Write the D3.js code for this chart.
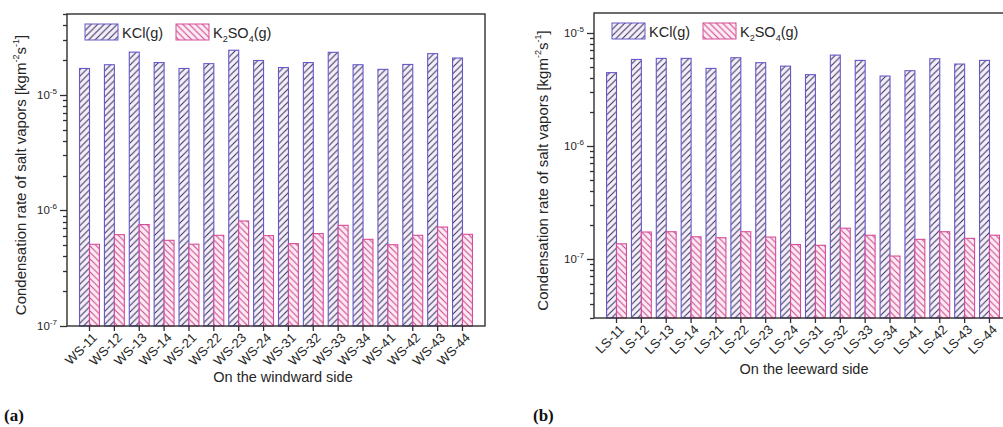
<!DOCTYPE html>
<html>
<head>
<meta charset="utf-8">
<script src="https://cdn.jsdelivr.net/npm/d3@7"></script>
<style>
  html, body { margin: 0; padding: 0; background: #fff; }
  svg { display: block; font-family: "Liberation Sans", Arial, sans-serif; }
</style>
</head>
<body>
<script>
// Sampling points on the windward side and their condensation rates (kg m^-2 s^-1)
const wsCategories = ["WS-11","WS-12","WS-13","WS-14","WS-21","WS-22","WS-23","WS-24",
                      "WS-31","WS-32","WS-33","WS-34","WS-41","WS-42","WS-43","WS-44"];
const wsKCl   = [1.69e-5,1.82e-5,2.34e-5,1.90e-5,1.69e-5,1.86e-5,2.43e-5,1.98e-5,
                 1.72e-5,1.90e-5,2.33e-5,1.82e-5,1.66e-5,1.83e-5,2.27e-5,2.08e-5];
const wsK2SO4 = [5.09e-7,6.17e-7,7.54e-7,5.51e-7,5.10e-7,6.09e-7,8.10e-7,6.05e-7,
                 5.16e-7,6.30e-7,7.43e-7,5.62e-7,5.05e-7,6.09e-7,7.18e-7,6.21e-7];

// Sampling points on the leeward side
const lsCategories = ["LS-11","LS-12","LS-13","LS-14","LS-21","LS-22","LS-23","LS-24",
                      "LS-31","LS-32","LS-33","LS-34","LS-41","LS-42","LS-43","LS-44"];
const lsKCl   = [4.45e-6,5.82e-6,5.95e-6,5.95e-6,4.85e-6,6.03e-6,5.45e-6,5.08e-6,
                 4.27e-6,6.36e-6,5.71e-6,4.15e-6,4.63e-6,5.91e-6,5.30e-6,5.71e-6];
const lsK2SO4 = [1.36e-7,1.73e-7,1.74e-7,1.57e-7,1.54e-7,1.74e-7,1.56e-7,1.34e-7,
                 1.32e-7,1.87e-7,1.62e-7,1.06e-7,1.49e-7,1.74e-7,1.52e-7,1.62e-7];

// Axis extents and labelled decades
const wsDomain = [1e-7, 5e-5];
const lsDomain = [3e-8, 1.5e-5];
const wsMajorTicks = [1e-7, 1e-6, 1e-5];
const lsMajorTicks = [1e-7, 1e-6, 1e-5];

const colors = {
  axis: "#303030",
  text: "#262626",
  kclStroke: "#6459c8",
  kclHatch: "#34325e",
  kclFill: "#f6eef8",
  k2Stroke: "#d64c98",
  k2Hatch: "#cf4490",
  k2Fill: "#fcebf3"
};

const W = 1003, H = 427;
const svg = d3.select("body").append("svg").attr("width", W).attr("height", H);
svg.append("rect").attr("width", W).attr("height", H).attr("fill", "#fff");

// Hatch patterns: forward slashes for KCl, back slashes for K2SO4
const defs = svg.append("defs");
function hatch(id, fill, stroke, forward) {
  const s = 6.5;
  const p = defs.append("pattern").attr("id", id)
    .attr("patternUnits", "userSpaceOnUse").attr("width", s).attr("height", s);
  p.append("rect").attr("width", s).attr("height", s).attr("fill", fill);
  p.append("path")
    .attr("d", forward
      ? `M0,${s} L${s},0 M${-s/4},${s/4} L${s/4},${-s/4} M${s*3/4},${s*5/4} L${s*5/4},${s*3/4}`
      : `M0,0 L${s},${s} M${-s/4},${s*3/4} L${s/4},${s*5/4} M${s*3/4},${-s/4} L${s*5/4},${s/4}`)
    .attr("stroke", stroke).attr("stroke-width", 1.05);
}
hatch("hatch-kcl", colors.kclFill, colors.kclHatch, true);
hatch("hatch-k2so4", colors.k2Fill, colors.k2Hatch, false);

function tenPower(sel, v, size) {
  const e = Math.round(Math.log10(v));
  sel.text(null);
  sel.append("tspan").text("10");
  sel.append("tspan").attr("dy", -5).attr("font-size", size * 0.7).text(String(e));
}

function panel(o) {
  const g = svg.append("g");
  const x = d3.scaleBand().domain(o.categories)
    .range([o.left, o.right]).paddingInner(0).paddingOuter(0.405);
  const y = d3.scaleLog().domain(o.domain).range([o.bottom, o.top]);
  const bw = x.bandwidth() * 0.4;

  // Bars
  const groups = g.selectAll("g.cat").data(o.categories).join("g").attr("class", "cat");
  groups.append("rect")
    .attr("x", d => x(d) + x.bandwidth() / 2 - bw)
    .attr("width", bw)
    .attr("y", (d, i) => y(o.kcl[i]))
    .attr("height", (d, i) => o.bottom - y(o.kcl[i]))
    .attr("fill", "url(#hatch-kcl)")
    .attr("stroke", colors.kclStroke).attr("stroke-width", 1.1);
  groups.append("rect")
    .attr("x", d => x(d) + x.bandwidth() / 2)
    .attr("width", bw)
    .attr("y", (d, i) => y(o.k2so4[i]))
    .attr("height", (d, i) => o.bottom - y(o.k2so4[i]))
    .attr("fill", "url(#hatch-k2so4)")
    .attr("stroke", colors.k2Stroke).attr("stroke-width", 1.1);

  // Frame
  g.append("rect").attr("x", o.left).attr("y", o.top)
    .attr("width", o.right - o.left).attr("height", o.bottom - o.top)
    .attr("fill", "none").attr("stroke", colors.axis).attr("stroke-width", 1.4);

  // Y axis ticks: long marks at labelled decades, short marks in between
  const isMajor = t => o.majorTicks.some(m => Math.abs(m - t) / m < 1e-6);
  const yTicks = y.ticks();
  g.append("g").selectAll("line").data(yTicks).join("line")
    .attr("x1", o.left).attr("x2", t => o.left - (isMajor(t) ? 7 : 4))
    .attr("y1", t => Math.round(y(t)) + 0.5).attr("y2", t => Math.round(y(t)) + 0.5)
    .attr("stroke", colors.axis).attr("stroke-width", 1.3);
  g.append("g").selectAll("text").data(o.majorTicks).join("text")
    .attr("x", o.left - 10).attr("y", t => y(t)).attr("dy", "0.35em")
    .attr("text-anchor", "end").attr("font-size", 11.5).attr("fill", colors.text)
    .each(function(v) { tenPower(d3.select(this), v, 11.5); });

  // X axis with slanted labels
  const xa = g.append("g").attr("transform", `translate(0,${o.bottom})`)
    .call(d3.axisBottom(x).tickSize(5).tickPadding(2));
  xa.select(".domain").remove();
  xa.selectAll("line").attr("stroke", colors.axis).attr("stroke-width", 1.3);
  xa.selectAll("text")
    .attr("font-size", 13).attr("fill", colors.text)
    .attr("font-family", "Liberation Sans, Arial, sans-serif")
    .attr("text-anchor", "end")
    .attr("dy", null).attr("y", null)
    .attr("transform", "translate(6,10) rotate(-45)")
    .attr("dominant-baseline", "middle");

  // Axis titles
  g.append("text").attr("x", o.xTitleX).attr("y", o.bottom + 56)
    .attr("text-anchor", "middle").attr("font-size", 14.5).attr("fill", colors.text)
    .text(o.xTitle);

  const yt = g.append("text")
    .attr("transform", `translate(${o.yTitleX},${(o.top + o.bottom) / 2 + 5}) rotate(-90)`)
    .attr("text-anchor", "middle").attr("font-size", 15).attr("fill", colors.text);
  yt.append("tspan").text("Condensation rate of salt vapors [kgm");
  yt.append("tspan").attr("dy", -7).attr("font-size", 9).text("-2");
  yt.append("tspan").attr("dy", 7).text("s");
  yt.append("tspan").attr("dy", -7).attr("font-size", 9).text("-1");
  yt.append("tspan").attr("dy", 7).text("]");

  // Legend
  const lg = g.append("g").attr("transform", `translate(${o.left + 18},${o.top + 10})`);
  lg.append("rect").attr("x", 0).attr("y", 0).attr("width", 33).attr("height", 16)
    .attr("fill", "url(#hatch-kcl)").attr("stroke", colors.kclStroke);
  lg.append("text").attr("x", 37).attr("y", 13.5).attr("font-size", 14.5).attr("fill", colors.text)
    .text("KCl(g)");
  lg.append("rect").attr("x", 91).attr("y", 0).attr("width", 33).attr("height", 16)
    .attr("fill", "url(#hatch-k2so4)").attr("stroke", colors.k2Stroke);
  const lt = lg.append("text").attr("x", 128).attr("y", 13.5).attr("font-size", 14.5)
    .attr("fill", colors.text);
  lt.append("tspan").text("K");
  lt.append("tspan").attr("dy", 4).attr("font-size", 9).text("2");
  lt.append("tspan").attr("dy", -4).text("SO");
  lt.append("tspan").attr("dy", 4).attr("font-size", 9).text("4");
  lt.append("tspan").attr("dy", -4).text("(g)");

  // Panel tag
  svg.append("text").attr("x", o.tagX).attr("y", 421)
    .attr("font-family", "Liberation Serif, 'Times New Roman', serif")
    .attr("font-weight", "bold").attr("font-size", 17).attr("fill", "#111")
    .text(o.tag);
}

panel({
  left: 67, right: 485, top: 14, bottom: 326,
  categories: wsCategories, kcl: wsKCl, k2so4: wsK2SO4,
  domain: wsDomain, majorTicks: wsMajorTicks,
  xTitle: "On the windward side", xTitleX: 283, yTitleX: 26,
  tag: "(a)", tagX: 4
});

panel({
  left: 594, right: 1012, top: 13, bottom: 318,
  categories: lsCategories, kcl: lsKCl, k2so4: lsK2SO4,
  domain: lsDomain, majorTicks: lsMajorTicks,
  xTitle: "On the leeward side", xTitleX: 804, yTitleX: 548,
  tag: "(b)", tagX: 533
});
</script>
</body>
</html>
